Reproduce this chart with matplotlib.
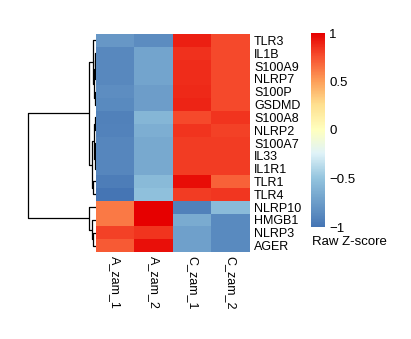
import matplotlib
matplotlib.use("Agg")
import matplotlib.pyplot as plt
import numpy as np
from matplotlib.colors import LinearSegmentedColormap

plt.rcParams["font.family"] = ["Liberation Sans", "DejaVu Sans"]

# rows in dendrogram order
genes = ["TLR3", "IL1B", "S100A9", "NLRP7", "S100P", "GSDMD", "S100A8", "NLRP2",
         "S100A7", "IL33", "IL1R1", "TLR1", "TLR4", "NLRP10", "HMGB1", "NLRP3", "AGER"]
samples = ["A_zam_1", "A_zam_2", "C_zam_1", "C_zam_2"]

zscores = np.array([
    [-0.78, -0.85, 0.90, 0.78],
    [-0.87, -0.70, 0.85, 0.78],
    [-0.87, -0.70, 0.86, 0.78],
    [-0.87, -0.70, 0.86, 0.78],
    [-0.84, -0.74, 0.87, 0.78],
    [-0.86, -0.74, 0.89, 0.78],
    [-0.92, -0.58, 0.78, 0.84],
    [-0.91, -0.64, 0.84, 0.80],
    [-0.89, -0.67, 0.82, 0.82],
    [-0.89, -0.67, 0.82, 0.82],
    [-0.89, -0.67, 0.82, 0.82],
    [-0.94, -0.56, 0.96, 0.70],
    [-1.00, -0.52, 0.82, 0.83],
    [0.62, 1.00, -0.92, -0.55],
    [0.62, 1.00, -0.65, -0.86],
    [0.80, 0.84, -0.72, -0.86],
    [0.72, 0.95, -0.72, -0.86],
])

# row dendrogram merges: (left node, right node, height); nodes >= 17 are earlier merges
merges = [
    (1, 2, 0.6),      # 17
    (17, 3, 1.0),     # 18
    (4, 5, 1.2),      # 19
    (18, 19, 2.2),    # 20
    (0, 20, 3.5),     # 21
    (8, 9, 0.6),      # 22
    (22, 10, 1.0),    # 23
    (6, 7, 1.5),      # 24
    (24, 23, 2.5),    # 25
    (11, 12, 3.0),    # 26
    (25, 26, 4.2),    # 27
    (21, 27, 7.0),    # 28
    (15, 16, 2.8),    # 29
    (14, 29, 4.5),    # 30
    (13, 30, 7.5),    # 31
    (28, 31, 68.0),   # 32
]

cmap = LinearSegmentedColormap.from_list("zs", [
    (0.0, "#4575B4"), (0.25, "#93C4DE"), (0.38, "#E0F3F8"), (0.5, "#FFFFBF"),
    (0.63, "#FEE090"), (0.75, "#FDA05A"), (0.88, "#F7502F"), (1.0, "#E60000")])

W, H = 411, 339
fig = plt.figure(figsize=(W / 100, H / 100), dpi=100)

def box(x0, y0, x1, y1):
    return [x0 / W, 1 - y1 / H, (x1 - x0) / W, (y1 - y0) / H]

ax = fig.add_axes(box(96, 34, 250, 252))
im = ax.imshow(zscores, cmap=cmap, vmin=-1, vmax=1, aspect="auto", interpolation="nearest")
ax.yaxis.tick_right()
ax.set_yticks(range(len(genes)))
ax.set_yticklabels(genes, fontsize=9)
ax.set_xticks(range(len(samples)))
ax.set_xticklabels(samples, fontsize=9, rotation=270)
ax.tick_params(length=0, pad=3)
for s in ax.spines.values():
    s.set_visible(False)

# dendrogram
dax = fig.add_axes(box(26, 34, 96, 252))
n = len(genes)
pos = {i: (float(i), 0.0) for i in range(n)}
for k, (a, b, h) in enumerate(merges):
    ya, ha = pos[a]
    yb, hb = pos[b]
    dax.plot([ha, h, h, hb], [ya, ya, yb, yb], color="black", lw=0.9, solid_capstyle="butt")
    pos[n + k] = ((ya + yb) / 2, h)
dax.set_xlim(70, 0)
dax.set_ylim(n - 0.5, -0.5)
dax.axis("off")

cax = fig.add_axes(box(311, 33, 325, 227))
cb = fig.colorbar(im, cax=cax, ticks=[-1, -0.5, 0, 0.5, 1])
cb.ax.set_yticklabels(["\u22121", "\u22120.5", "0", "0.5", "1"], fontsize=9.5)
cb.ax.tick_params(length=0, pad=3)
cb.outline.set_visible(False)
fig.text(312 / W, 1 - 242 / H, "Raw Z-score", fontsize=9.5, va="center", ha="left")

fig.savefig("out.png", dpi=100)
